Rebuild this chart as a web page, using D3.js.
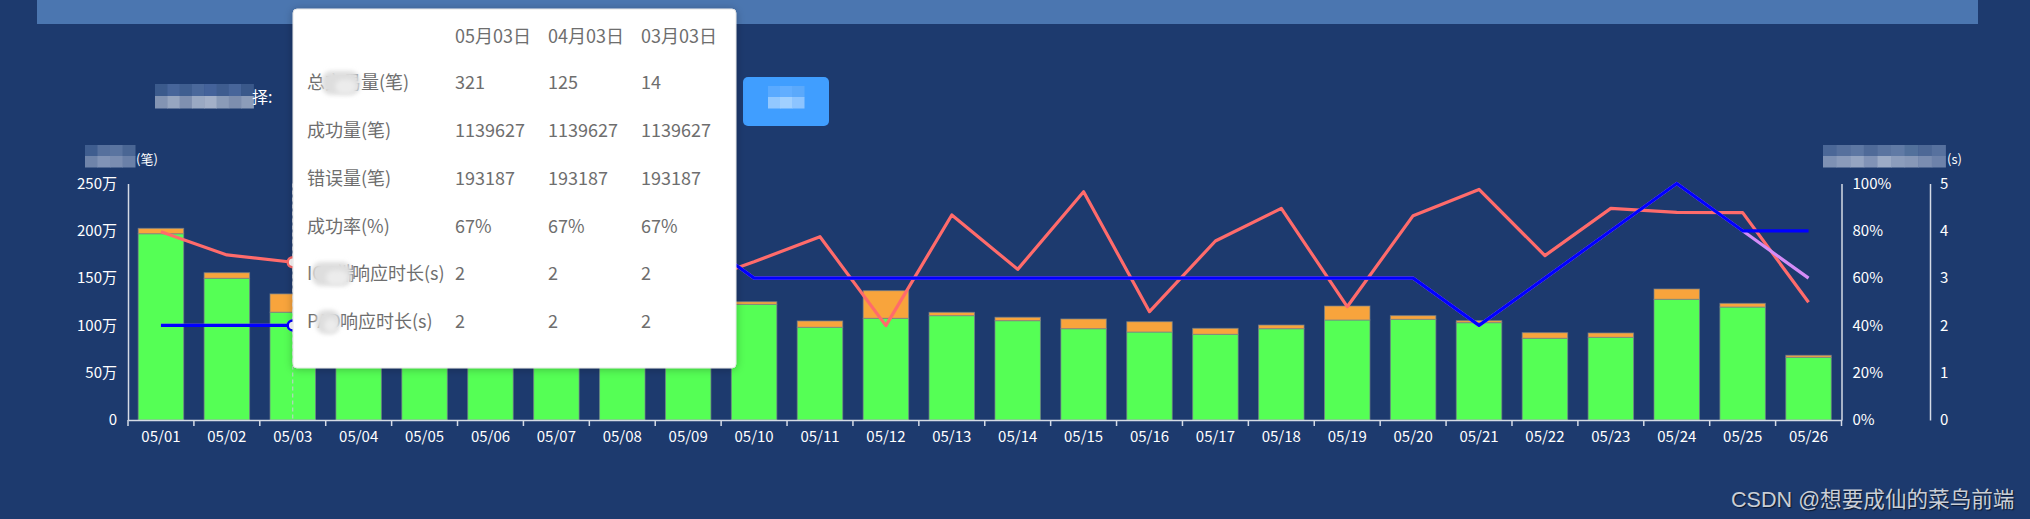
<!DOCTYPE html>
<html><head><meta charset="utf-8">
<script src="https://cdn.jsdelivr.net/npm/d3@7"></script>
<style>
html,body{margin:0;padding:0;background:#1d3a6e;overflow:hidden;}
svg{display:block;}
text{font-family:"Noto Sans CJK SC","Microsoft YaHei",sans-serif;}
</style></head><body>
<svg id="c" width="2030" height="519"></svg>
<script>
// ---------------- data ----------------
const dates = ["05/01","05/02","05/03","05/04","05/05","05/06","05/07","05/08","05/09","05/10","05/11","05/12","05/13","05/14","05/15","05/16","05/17","05/18","05/19","05/20","05/21","05/22","05/23","05/24","05/25","05/26"];
const successVolume = [1969000,1498000,1139627,1180000,1120000,1210000,1160000,1100000,1200000,1223000,980000,1075000,1103000,1050000,965000,930000,906000,965000,1057000,1064000,1029000,864000,874000,1276000,1194000,663000];
const errorVolume   = [57000,59000,193187,30000,40000,30000,50000,30000,40000,27000,67000,292000,35000,36000,103000,109000,63000,39000,148000,39000,21000,59000,46000,109000,39000,21000];
const successRate   = [79.6,69.8,66.7,72,78,70,74,68,57,66.9,77.5,39.9,86.7,63.7,96.5,45.8,75.7,89.5,47.9,86.4,97.5,69.5,89.5,87.8,87.7,49.8];
const respTimeA     = [2,2,2,2,3,3,3,3,4,3,3,3,3,3,3,3,3,3,3,3,2,3,4,5,4,4];
const respTimeB     = [2,2,2,2,3,3,3,3,4,3,3,3,3,3,3,3,3,3,3,3,2,3,4,5,4,3];
const volumeTicks = [0,500000,1000000,1500000,2000000,2500000];
const rateTicks = [0,20,40,60,80,100];
const timeTicks = [0,1,2,3,4,5];
const hoverIndex = 2;
const tipDates = ["05月03日","04月03日","03月03日"];
const tipLabels = [["总交易","量(笔)"],["成功量(笔)"],["错误量(笔)"],["成功率(%)"],["IOS端","响应时长(s)"],["PAD","响应时长(s)"]];
const tipValues = [["321","125","14"],["1139627","1139627","1139627"],["193187","193187","193187"],["67%","67%","67%"],["2","2","2"],["2","2","2"]];
const watermark = "CSDN @想要成仙的菜鸟前端";

// ---------------- layout ----------------
const svg = d3.select("#c");
const L = 128, R = 1841.5, T = 183.5, B = 420;
const axisColor = "#d5dbe6";

const defs = svg.append("defs");
const sh = defs.append("filter").attr("id","shadow").attr("x","-10%").attr("y","-10%").attr("width","120%").attr("height","120%");
sh.append("feDropShadow").attr("dx",0).attr("dy",1).attr("stdDeviation",4).attr("flood-color","#000").attr("flood-opacity",0.25);
const bl = defs.append("filter").attr("id","blur").attr("x","-20%").attr("y","-40%").attr("width","140%").attr("height","180%");
bl.append("feGaussianBlur").attr("stdDeviation",2);

svg.append("rect").attr("width",2030).attr("height",519).attr("fill","#1d3a6e");
// top banner
svg.append("rect").attr("x",37).attr("y",0).attr("width",1941).attr("height",24).attr("fill","#4b76b0");

// mosaic helper (pixelated blurred text)
function mosaic(x0,y0,cw,ch,rows){
  rows.forEach((row,r)=>row.forEach((c,i)=>{
    svg.append("rect").attr("x",x0+i*cw).attr("y",y0+r*ch).attr("width",cw+0.5).attr("height",ch+0.5).attr("fill",c);
  }));
}
// filter label
mosaic(155,84,12.3,12,[
  ["#3b5a8c","#47659a","#3f5e90","#4a689b","#44629a","#3e5c8f","#47659a","#3a588a"],
  ["#8394b3","#97a6c0","#7f90b0","#9aa9c3","#a3b0c8","#8a9bb8","#7d8eae","#8c9cb9"]]);
svg.append("text").attr("x",252).attr("y",103).attr("fill","#fff").attr("font-size",16).text("择:");
// button
svg.append("rect").attr("x",743).attr("y",77).attr("width",86).attr("height",49).attr("rx",5).attr("fill","#409eff");
mosaic(768,86,12,11,[["#5aaaff","#62aeff","#5ba9fb"],["#92c8ff","#a0d0ff","#8cc4ff"]]);

// axis titles
mosaic(85,145,12.5,11,[["#3f5d8f","#56709d","#5a74a0","#4a6694"],["#6f84aa","#8193b6","#7a8db1","#6a80a8"]]);
svg.append("text").attr("x",136).attr("y",164).attr("fill","#fff").attr("font-size",13).text("(笔)");
mosaic(1823,145,13.6,11,[["#4b6797","#56709d","#5d77a3","#4f6a98","#5a74a0","#607aa5","#52709b","#4d6896","#57719e"],["#7e91b4","#8a9bbb","#95a5c2","#8193b6","#9cabc6","#8c9dbc","#8798b8","#7a8db1","#6d82aa"]]);
svg.append("text").attr("x",1947).attr("y",164).attr("fill","#fff").attr("font-size",13).text("(s)");

// ---------------- scales ----------------
const x = d3.scaleBand().domain(dates).range([L,R]).paddingInner(0.31).paddingOuter(0.155);
const step = x.step();
const yV = d3.scaleLinear().domain([0,2500000]).range([B,T]);
const yP = d3.scaleLinear().domain([0,100]).range([B,T]);
const yS = d3.scaleLinear().domain([0,5]).range([B,T]);
const cx = d => x(d) + x.bandwidth()/2;

// ---------------- bars ----------------
const gB = svg.append("g");
gB.selectAll(".s").data(dates).join("rect")
  .attr("x",d=>x(d)).attr("width",x.bandwidth())
  .attr("y",(d,i)=>yV(successVolume[i])).attr("height",(d,i)=>B-yV(successVolume[i]))
  .attr("fill","#55ff55").attr("stroke","rgba(120,130,140,0.7)").attr("stroke-width",1);
gB.selectAll(".e").data(dates).join("rect")
  .attr("x",d=>x(d)).attr("width",x.bandwidth())
  .attr("y",(d,i)=>yV(successVolume[i]+errorVolume[i])).attr("height",(d,i)=>yV(successVolume[i])-yV(successVolume[i]+errorVolume[i]))
  .attr("fill","#f8a43c").attr("stroke","rgba(120,130,140,0.7)").attr("stroke-width",1);

// ---------------- axes ----------------
const axL = svg.append("g").attr("transform",`translate(${L},0)`)
  .call(d3.axisLeft(yV).tickValues(volumeTicks).tickSize(0).tickPadding(11).tickFormat(v=>v===0?"0":(v/10000)+"万"));
const axP = svg.append("g").attr("transform",`translate(${R},0)`)
  .call(d3.axisRight(yP).tickValues(rateTicks).tickSize(0).tickPadding(11).tickFormat(v=>v+"%"));
const axS = svg.append("g").attr("transform",`translate(1930,0)`)
  .call(d3.axisRight(yS).tickValues(timeTicks).tickSize(0).tickPadding(10).tickFormat(v=>v));
const axX = svg.append("g").attr("transform",`translate(0,${B})`)
  .call(d3.axisBottom(x).tickSize(0).tickPadding(11));
[axL,axP,axS,axX].forEach(g=>{
  g.select(".domain").attr("stroke",axisColor).attr("stroke-width",1.5);
  g.selectAll("text").attr("fill","#fff").attr("font-size",15).style("font-family",'"Noto Sans CJK SC",sans-serif');
});
// boundary ticks on x axis
svg.append("g").selectAll("line").data(d3.range(dates.length+1)).join("line")
  .attr("x1",i=>L+i*step).attr("x2",i=>L+i*step).attr("y1",B).attr("y2",B+6)
  .attr("stroke",axisColor).attr("stroke-width",1.5);

// ---------------- axis pointer ----------------
svg.append("line").attr("x1",cx(dates[hoverIndex])).attr("x2",cx(dates[hoverIndex])).attr("y1",T).attr("y2",B)
  .attr("stroke","#c8cdd6").attr("stroke-dasharray","4,3").attr("stroke-width",1);

// ---------------- lines ----------------
function drawLine(vals,scale,color){
  const ln = d3.line().x((v,i)=>cx(dates[i])).y(v=>scale(v));
  svg.append("path").datum(vals).attr("d",ln).attr("fill","none").attr("stroke",color)
    .attr("stroke-width",3.2).attr("stroke-linejoin","round").attr("stroke-linecap","butt");
  svg.append("circle").attr("cx",cx(dates[hoverIndex])).attr("cy",scale(vals[hoverIndex])).attr("r",5)
    .attr("fill","#fff").attr("stroke",color).attr("stroke-width",2.5);
}
drawLine(successRate,yP,"#ff6b6b");
drawLine(respTimeB,yS,"#d48cf8");
drawLine(respTimeA,yS,"#0000ff");

// ---------------- tooltip ----------------
const tx = 293, ty = 9, tw = 443, th = 359;
const gT = svg.append("g");
gT.append("rect").attr("x",tx).attr("y",ty).attr("width",tw).attr("height",th).attr("rx",4)
  .attr("fill","#fff").attr("stroke","#e4e4e4").attr("filter","url(#shadow)");
const colX = [455,548,641];
const rowY = [83,131,179,227,274,322];
tipDates.forEach((d,j)=>gT.append("text").attr("x",colX[j]).attr("y",37+6).attr("fill","#6e6e6e").attr("font-size",18).text(d));
const labX = [[307,361],[307],[307],[307],[307,352],[307,340]];
tipLabels.forEach((parts,r)=>{
  const t = gT.append("text").attr("y",rowY[r]+6).attr("fill","#6e6e6e").attr("font-size",18);
  parts.forEach((p,k)=>t.append("tspan").attr("x",labX[r][k]).text(p));
  tipValues[r].forEach((v,j)=>gT.append("text").attr("x",colX[j]).attr("y",rowY[r]+6).attr("fill","#6e6e6e").attr("font-size",18).text(v));
});
// blurred patches over hidden words
const blobs = [[322,71,38,24],[312,262,40,24],[316,310,24,24]];
blobs.forEach(([bx,by,bw,bh])=>{
  gT.append("rect").attr("x",bx).attr("y",by).attr("width",bw).attr("height",bh).attr("rx",9)
    .attr("fill","#dedede").attr("filter","url(#blur)");
  gT.append("rect").attr("x",bx+bw*0.35).attr("y",by+bh*0.35).attr("width",bw*0.55).attr("height",bh*0.6).attr("rx",8)
    .attr("fill","#ececec").attr("filter","url(#blur)");
});

// ---------------- watermark ----------------
svg.append("text").attr("x",1731).attr("y",507).attr("fill","#c9ced6").attr("font-size",21.6)
  .attr("style",'font-family:"Liberation Sans","Noto Sans CJK SC",sans-serif;text-shadow:1px 1px 1px rgba(0,0,0,0.6)')
  .text(watermark);
</script>
</body></html>
